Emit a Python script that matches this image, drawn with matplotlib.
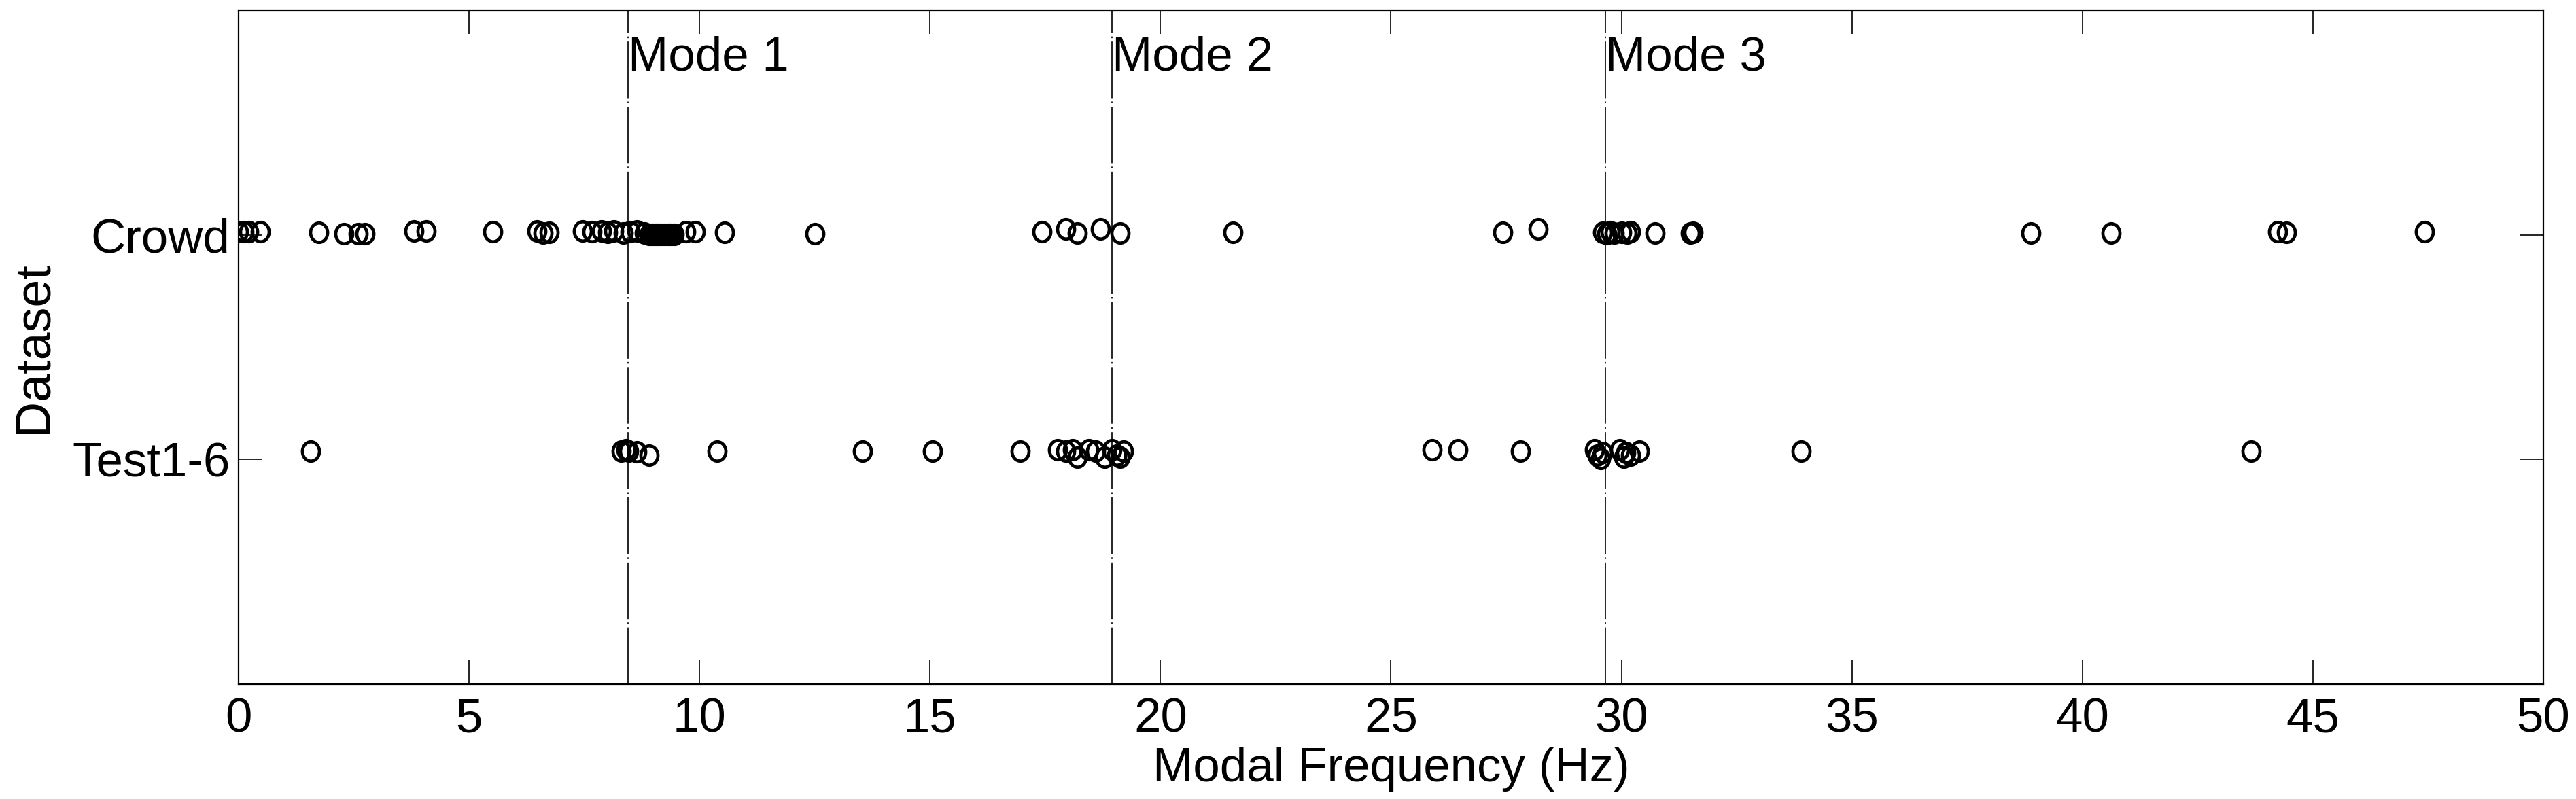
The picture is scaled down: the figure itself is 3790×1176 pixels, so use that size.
"""Modal frequency scatter: crowd vs. test datasets."""

import matplotlib

matplotlib.use("Agg")

import matplotlib.pyplot as plt
from matplotlib.path import Path
from matplotlib.transforms import Affine2D

plt.rcParams["font.family"] = ["Liberation Sans", "DejaVu Sans"]

# dataset rows
datasets = ["Test1-6", "Crowd"]
dataset_pos = [1, 2]

# identified modal frequencies (Hz) and row position (small vertical offsets as drawn)
crowd_freq = [
    0.00, 0.12, 0.22, 0.47, 1.74, 2.29, 2.60, 2.75, 3.81, 4.07, 5.51, 6.48,
    6.60, 6.74, 7.46, 7.67, 7.88, 8.00, 8.14, 8.35, 8.50, 8.64, 8.81, 8.90,
    8.95, 9.00, 9.05, 9.10, 9.15, 9.20, 9.25, 9.30, 9.35, 9.40, 9.45, 9.70,
    9.91, 10.55, 12.50, 17.43, 17.94, 18.20, 18.70, 19.13, 21.58, 27.43,
    28.19, 29.60, 29.68, 29.75, 29.85, 30.00, 30.13, 30.20, 30.73, 31.49,
    31.55, 38.89, 40.63, 44.23, 44.43, 47.42,
]
crowd_y = [
    2.013, 2.013, 2.013, 2.013, 2.010, 2.006, 2.006, 2.006, 2.016, 2.016,
    2.013, 2.018, 2.008, 2.010, 2.018, 2.013, 2.018, 2.010, 2.018, 2.008,
    2.013, 2.018, 2.008, 2.003, 2.003, 2.003, 2.003, 2.003, 2.003, 2.003,
    2.003, 2.003, 2.003, 2.003, 2.003, 2.013, 2.013, 2.010, 2.006, 2.015,
    2.025, 2.008, 2.025, 2.008, 2.010, 2.010, 2.025, 2.010, 2.005, 2.013,
    2.008, 2.010, 2.008, 2.013, 2.008, 2.008, 2.010, 2.008, 2.008, 2.013,
    2.010, 2.013,
]

test_freq = [
    1.57, 8.30, 8.40, 8.47, 8.64, 8.90, 10.38, 13.54, 15.06, 16.96, 17.77,
    17.94, 18.10, 18.20, 18.45, 18.60, 18.78, 18.95, 19.05, 19.12, 19.20,
    25.90, 26.46, 27.81, 29.42, 29.48, 29.55, 29.60, 29.97, 30.05, 30.10,
    30.20, 30.39, 33.90, 43.66,
]
test_y = [
    1.038, 1.038, 1.043, 1.038, 1.033, 1.018, 1.038, 1.038, 1.038, 1.038,
    1.043, 1.038, 1.043, 1.010, 1.043, 1.038, 1.010, 1.043, 1.020, 1.010,
    1.038, 1.043, 1.043, 1.038, 1.043, 1.020, 1.005, 1.030, 1.043, 1.010,
    1.030, 1.020, 1.038, 1.038, 1.038,
]

mode_freq = [8.45, 18.95, 29.65]
mode_labels = ["Mode 1", "Mode 2", "Mode 3"]

xticks = [0, 5, 10, 15, 20, 25, 30, 35, 40, 45, 50]

FS = 51

# slightly tall open circle, like the original export
oval = Path.unit_circle().transformed(Affine2D().scale(0.88, 1.0))

fig = plt.figure(figsize=(37.9, 11.76), dpi=100)
ax = fig.add_axes([0.0926, 0.1437, 0.8947, 0.8435])

marker_style = dict(
    linestyle="none",
    marker=oval,
    markersize=20.5,
    markerfacecolor="none",
    markeredgecolor="black",
    markeredgewidth=3.4,
)
ax.plot(crowd_freq, crowd_y, **marker_style)
ax.plot(test_freq, test_y, **marker_style)

for freq, label in zip(mode_freq, mode_labels):
    ax.axvline(freq, color="black", linewidth=1.2,
               linestyle=(0, (50, 3, 1.5, 3)))
    ax.text(freq, 0.962, label, transform=ax.get_xaxis_transform(),
            ha="left", va="top", fontsize=FS)

ax.set_xlim(0, 50)
ax.set_ylim(0, 3)
ax.set_xticks(xticks)
ax.set_yticks(dataset_pos)
ax.set_yticklabels(datasets)
ax.set_xlabel("Modal Frequency (Hz)", fontsize=FS, labelpad=5)
ax.set_ylabel("Dataset", fontsize=FS + 2, labelpad=16)

ax.tick_params(axis="both", direction="in", length=25, width=1.2,
               top=True, right=True, labelsize=FS)
ax.tick_params(axis="x", pad=14)
ax.tick_params(axis="y", pad=9)
for spine in ax.spines.values():
    spine.set_linewidth(1.6)

fig.savefig("out.png", dpi=100)
